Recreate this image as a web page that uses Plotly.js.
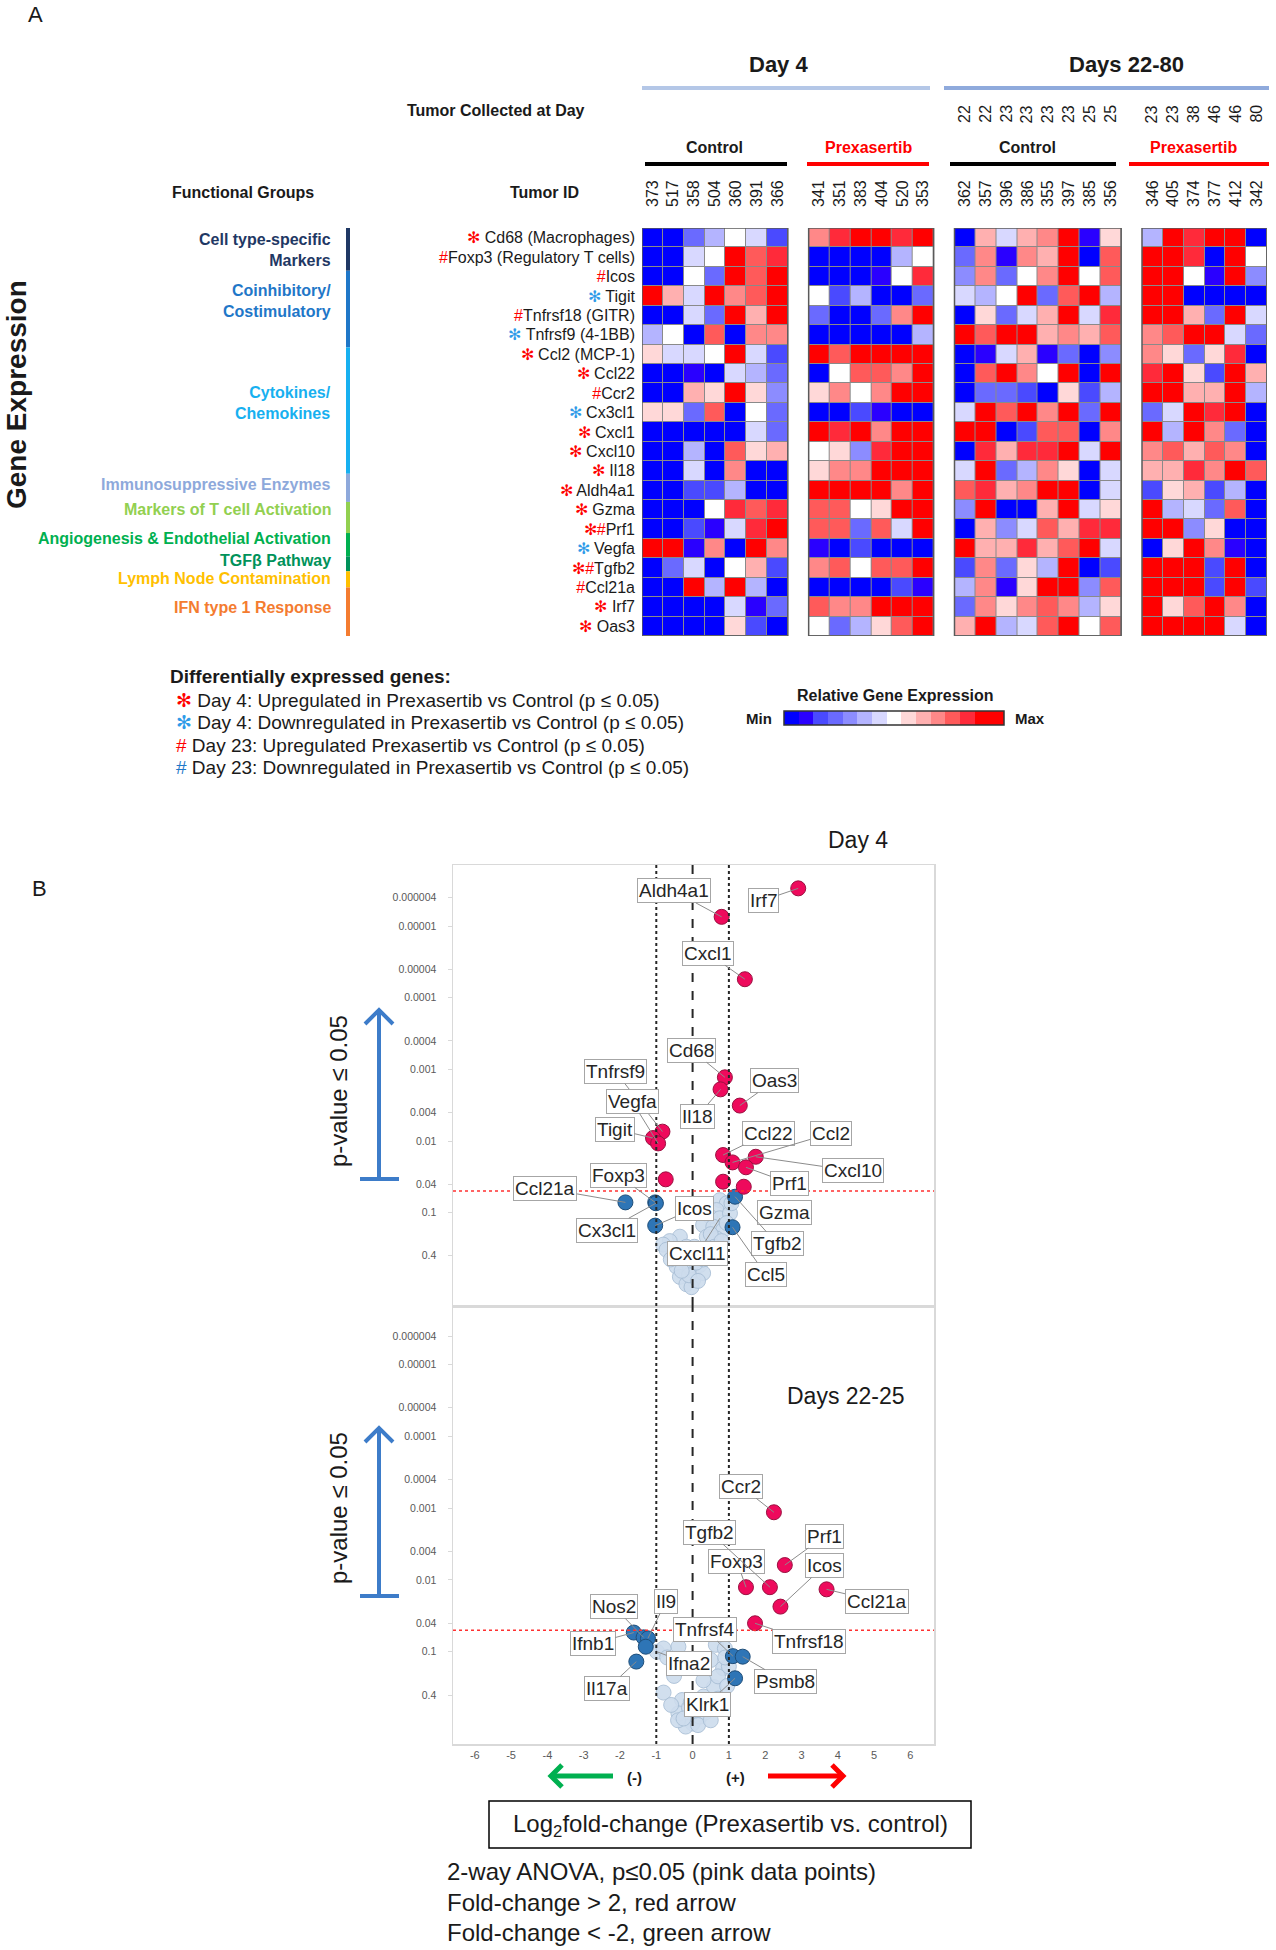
<!DOCTYPE html>
<html>
<head>
<meta charset="utf-8">
<script src="https://cdn.plot.ly/plotly-3.0.1.min.js"></script>
<style>body{margin:0;background:#fff}#chart{width:1276px;height:1950px}</style>
</head>
<body>
<div id="chart"></div>
<script>
var W = 1276, H = 1950;
var FONT = "Liberation Sans, Arial, sans-serif";
function px(v) { return v / W; }
function py(v) { return 1 - v / H; }

// ---------- A: heatmap ----------
var genes = ["Cd68 (Macrophages)", "Foxp3 (Regulatory T cells)", "Icos", "Tigit", "Tnfrsf18 (GITR)",
  "Tnfrsf9 (4-1BB)", "Ccl2 (MCP-1)", "Ccl22", "Ccr2", "Cx3cl1", "Cxcl1", "Cxcl10", "Il18", "Aldh4a1",
  "Gzma", "Prf1", "Vegfa", "Tgfb2", "Ccl21a", "Irf7", "Oas3"];
// u4/d4 = day 4 up/down, u23/d23 = day 23 up/down
var geneMarks = [["u4"], ["u23"], ["u23"], ["d4"], ["u23"], ["d4"], ["u4"], ["u4"], ["u23"], ["d4"],
  ["u4"], ["u4"], ["u4"], ["u4"], ["u4"], ["u4", "u23"], ["d4"], ["u4", "u23"], ["u23"], ["u4"], ["u4"]];

var idsDay4Control = ["373", "517", "358", "504", "360", "391", "366"];
var idsDay4Prex = ["341", "351", "383", "404", "520", "353"];
var idsLateControl = ["362", "357", "396", "386", "355", "397", "385", "356"];
var idsLatePrex = ["346", "405", "374", "377", "412", "342"];
var daysLateControl = ["22", "22", "23", "23", "23", "23", "25", "25"];
var daysLatePrex = ["23", "23", "38", "46", "46", "80"];

// relative expression level, -7 (min) .. 6 (max)
var zDay4Control = [
  [-7,-7,-4,-2,0,-1,-5], [-7,-7,-1,0,6,4,5], [-7,-7,0,-4,6,4,6], [6,2,-1,6,3,4,6],
  [-7,-7,-1,-4,6,2,6], [-2,0,-7,4,-7,3,3], [1,-1,-1,0,6,-1,-5], [-7,-7,-6,-7,-1,-2,-4],
  [-7,-7,2,1,6,1,-3], [1,1,-4,4,-7,0,-4], [-7,-7,-7,-7,-7,-1,-4], [-7,-7,-2,-7,4,1,2],
  [-7,-7,-1,-7,3,-7,-7], [-7,-7,-5,-5,-2,-7,-7], [-7,-7,-7,0,5,4,5], [-7,-7,-5,-6,-1,5,6],
  [6,6,-6,3,-7,6,3], [-7,-4,-1,-7,0,2,-5], [-7,-7,6,-2,6,-2,-7], [-7,-7,-7,-7,-1,-6,-4],
  [-7,-7,-7,-7,1,-5,-7]];
var zDay4Prex = [
  [3,5,6,6,5,6], [-7,-7,-7,-7,-2,0], [-7,-7,-7,-6,0,5], [0,-5,-2,-7,-7,-4],
  [-4,-7,-7,-4,3,6], [-7,-7,-7,-7,-7,-2], [6,4,6,6,6,6], [-7,0,4,4,3,6],
  [1,3,0,3,6,6], [-7,-7,-5,-6,-7,-7], [6,5,6,3,6,6], [0,1,-3,5,6,6],
  [1,3,3,6,6,6], [6,6,6,6,3,6], [4,4,0,1,6,6], [4,4,-4,4,-1,6],
  [-6,-7,-5,-7,-7,-7], [3,4,0,4,4,6], [-7,-7,-7,-7,-5,-6], [4,3,3,6,6,6],
  [0,-4,-2,1,4,6]];
var zLateControl = [
  [-7,2,-1,2,3,6,-6,1], [-4,3,-6,3,2,6,-7,4], [-3,3,-4,0,3,6,0,4], [-1,-2,0,6,-4,4,6,-2],
  [-7,1,-4,-1,2,6,-1,5], [6,4,6,6,2,3,2,4], [-7,-6,-1,2,-6,-4,-7,-3], [-7,4,6,3,0,6,-7,6],
  [-7,-4,-4,-5,-7,1,-5,-2], [-1,6,4,6,3,6,-4,6], [6,6,-7,-5,4,4,-7,3], [-7,5,2,5,5,6,-1,6],
  [-1,6,-4,-2,3,1,-7,-1], [4,5,2,3,6,6,-7,-1], [-3,6,-7,-7,2,6,-1,1], [-7,2,-3,-1,4,2,5,5],
  [6,2,2,5,2,4,6,-1], [-5,3,-4,1,-2,6,-7,-5], [-2,3,-6,1,6,6,-3,4], [-4,3,1,3,4,3,-2,1],
  [2,6,-2,-1,4,6,0,4]];
var zLatePrex = [
  [-2,6,5,6,6,-7], [6,6,5,-7,6,0], [6,6,0,-6,6,-3], [6,6,-7,-7,-7,-7],
  [6,6,2,-4,6,-1], [3,4,6,6,-1,-4], [3,1,-4,1,5,-7], [5,6,1,-5,6,2],
  [6,6,2,2,6,-2], [-4,-1,6,5,6,-7], [6,-2,6,3,-4,-7], [3,4,2,4,3,-7],
  [2,2,5,3,6,4], [-5,1,2,-5,-2,-7], [6,-2,-1,-4,4,-7], [6,6,-3,1,-7,-7],
  [-7,1,6,3,-6,-7], [6,6,6,-5,6,-7], [6,6,6,-5,6,-5], [6,1,4,6,3,-7],
  [6,6,6,6,-1,-7]];

var levelColors = ["#0000ff", "#2a00ff", "#4a4aff", "#6a6aff", "#8c8cff", "#b4b4ff", "#d8d8ff", "#ffffff",
  "#ffd8d8", "#ffb0b0", "#ff8888", "#ff5a5a", "#ff2a3a", "#ff0000"];
var legendLevels = [-7, -6, -5, -4, -3, -2, -1, 0, 1, 2, 3, 4, 5, 6, 6];

var groupNames = ["Cell type-specific<br>Markers", "Coinhibitory/<br>Costimulatory", "Cytokines/<br>Chemokines",
  "Immunosuppressive Enzymes", "Markers of T cell Activation", "Angiogenesis &amp; Endothelial Activation",
  "TGF\u03b2 Pathway", "Lymph Node Contamination", "IFN type 1 Response"];
var groupColors = ["#1f3864", "#1f77c8", "#17b0f0", "#8ea9db", "#92d050", "#00b050", "#00925a", "#ffc000", "#f47c30"];

// ---------- B: volcano plots ----------
var d4SigX = [2.91, 0.80, 1.44, 0.89, 0.77, 1.30, -0.83, -1.09, -0.95, 0.84, 1.10, 1.74, 1.47, -0.74, 0.84, 1.41];
var d4SigP = [2.96e-6, 7.4e-6, 5.5e-5, 1.29e-3, 1.9e-3, 3.2e-3, 7.4e-3, 9.1e-3, 1.08e-2, 0.0157, 0.0199, 0.0166, 0.0233, 0.0343, 0.037, 0.0435];
var d4SigGenes = ["Irf7", "Aldh4a1", "Cxcl1", "Cd68", "Il18", "Oas3", "Tnfrsf9", "Tigit", "Vegfa", "Ccl22", "Ccl2", "Cxcl10", "Prf1", "", "", "Gzma"];
var d4BlueX = [-1.85, -1.03, -1.01, -1.03, 1.17, 1.10];
var d4BlueP = [0.072, 0.072, 0.074, 0.152, 0.06, 0.16];
var d4BlueGenes = ["Ccl21a", "Foxp3", "Cx3cl1", "Icos", "Tgfb2", "Ccl5"];
var d4CloudX = [0.75, 0.94, 0.66, 0.48, 0.75, 1.03, 0.29, 0.57, 0.84, 0.39, 0.66, -0.35, -0.63, -0.81, -0.17, -0.53, -0.26, 0.11, 0.39, -0.44,
  -0.07, 0.20, -0.35, 0.02, -0.17, -0.03, 0.29, 0.94, 1.07, -0.72, 0.50, 0.10, -0.10, 0.15, 0.60, -0.60, 0.80, 0.30, -0.30, 0.05];
var d4CloudP = [0.067, 0.074, 0.092, 0.114, 0.12, 0.102, 0.149, 0.157, 0.175, 0.217, 0.23, 0.217, 0.25, 0.28, 0.30, 0.37, 0.46, 0.41, 0.37, 0.57,
  0.60, 0.54, 0.79, 0.87, 1.0, 1.1, 0.70, 0.14, 0.074, 0.33, 0.20, 0.50, 0.75, 0.90, 0.30, 0.45, 0.25, 0.45, 0.65, 0.30];
var d4CloudGenes = ["", "", "", "", "Cxcl11"];

var lateSigX = [2.24, 2.54, 1.47, 2.13, 2.42, 3.69, 1.72];
var lateSigP = [1.14e-3, 6.2e-3, 0.0126, 0.0126, 0.0235, 0.0135, 0.0401];
var lateSigGenes = ["Ccr2", "Prf1", "Foxp3", "Tgfb2", "Icos", "Ccl21a", "Tnfrsf18"];
var lateBlueX = [-1.62, -1.35, -1.23, -1.29, -1.55, 1.11, 1.38, 1.17];
var lateBlueP = [0.054, 0.063, 0.065, 0.085, 0.137, 0.115, 0.117, 0.234];
var lateBlueGenes = ["Ifnb1", "Nos2", "Il9", "", "Il17a", "Tnfrsf4", "Psmb8", "Klrk1"];
var lateCloudX = [-0.98, -0.39, -0.51, -0.80, 0.64, 0.89, 0.50, 0.84, 0.59, 0.30, -0.29, -0.39, 0.00, 0.20, -0.19, -0.59, -0.80, -0.70, 0.30, 0.70,
  1.00, 0.95, 0.45, -0.10, 0.10, -0.40, 0.35, 0.15, -0.25, 0.70, -0.45, 0.90, 0.50, -0.05];
var lateCloudP = [0.10, 0.085, 0.217, 0.37, 0.08, 0.09, 0.13, 0.17, 0.31, 0.42, 0.47, 0.72, 1.0, 0.80, 1.1, 0.55, 0.09, 0.12, 0.25, 0.22,
  0.16, 0.30, 0.55, 0.60, 0.65, 0.90, 0.70, 1.05, 0.85, 0.45, 0.15, 0.12, 0.90, 0.50];
var lateCloudGenes = ["Ifna2"];

var pTicks = [4e-6, 1e-5, 4e-5, 1e-4, 4e-4, 1e-3, 4e-3, 0.01, 0.04, 0.1, 0.4];
var pTickText = ["0.000004", "0.00001", "0.00004", "0.0001", "0.0004", "0.001", "0.004", "0.01", "0.04", "0.1", "0.4"];
var fcTicks = [-6, -5, -4, -3, -2, -1, 0, 1, 2, 3, 4, 5, 6];

// ---------- layout helpers ----------
var blocks = [
  {ids: idsDay4Control, z: zDay4Control, start: 0},
  {ids: idsDay4Prex, z: zDay4Prex, start: 8},
  {ids: idsLateControl, z: zLateControl, start: 15},
  {ids: idsLatePrex, z: zLatePrex, start: 24}
];

var scale = [];
levelColors.forEach(function (c, i) {
  scale.push([i / levelColors.length, c]);
  scale.push([(i + 1) / levelColors.length, c]);
});

var rowIdx = genes.map(function (g, i) { return i; });
var data = [];
var colVals = [], colText = [];
var shapes = [], annotations = [];

blocks.forEach(function (b) {
  var xs = b.ids.map(function (id, i) { return b.start + i; });
  colVals = colVals.concat(xs);
  colText = colText.concat(b.ids);
  data.push({
    type: "heatmap", x: xs, y: rowIdx, z: b.z, xaxis: "x", yaxis: "y",
    colorscale: scale, zmin: -7.5, zmax: 6.5, xgap: 1, ygap: 1, showscale: false, hoverinfo: "skip"
  });
  var x0 = b.start - 0.5, x1 = b.start + b.ids.length - 0.5;
  shapes.push({type: "rect", xref: "x", yref: "y", x0: x0, x1: x1, y0: -0.5, y1: 20.5,
    fillcolor: "#8a8a8a", line: {width: 0}, layer: "below"});
  shapes.push({type: "rect", xref: "x", yref: "y", x0: x0, x1: x1, y0: -0.5, y1: 20.5,
    fillcolor: "rgba(0,0,0,0)", line: {width: 1.5, color: "#5a5a5a"}});
});

// gene labels with significance marks
var markSym = {u4: ["\u273b", "#ff0000"], d4: ["\u273b", "#2f9be8"], u23: ["#", "#ff0000"], d23: ["#", "#1f78c8"]};
var geneTicks = genes.map(function (g, i) {
  var s = "";
  geneMarks[i].forEach(function (m) {
    s += '<span style="color:' + markSym[m][1] + '">' + markSym[m][0] + "</span>";
  });
  var last = geneMarks[i][geneMarks[i].length - 1];
  return s + (markSym[last][0] === "#" ? "" : " ") + g;
});

// day collected (late blocks only)
daysLateControl.forEach(function (d, i) {
  annotations.push({xref: "x", yref: "paper", x: 15 + i, y: py(103), text: d, textangle: -90,
    showarrow: false, font: {size: 16, color: "#1a1a1a"}});
});
daysLatePrex.forEach(function (d, i) {
  annotations.push({xref: "x", yref: "paper", x: 24 + i, y: py(103), text: d, textangle: -90,
    showarrow: false, font: {size: 16, color: "#1a1a1a"}});
});

// functional group bar
var groupBounds = [0, 2.2, 6.15, 12.65, 14.1, 15.7, 16.9, 17.67, 18.5, 21];
var groupLabelRows = [0.65, 3.26, 8.5, 12.72, 14.0, 15.46, 16.63, 17.55, 19.05];
groupNames.forEach(function (name, i) {
  shapes.push({type: "line", xref: "paper", yref: "y", x0: px(348), x1: px(348),
    y0: groupBounds[i] - 0.5, y1: groupBounds[i + 1] - 0.5, line: {color: groupColors[i], width: 4}});
  annotations.push({xref: "paper", yref: "y", x: px(333), y: groupLabelRows[i], text: name,
    xanchor: "right", yanchor: "middle", align: "right", showarrow: false,
    font: {size: 16, color: groupColors[i], weight: "bold"}});
});

function txt(x, y, text, size, opts) {
  var a = {xref: "paper", yref: "paper", x: px(x), y: py(y), text: text, showarrow: false,
    xanchor: "center", yanchor: "middle", font: {size: size, color: "#1a1a1a"}};
  for (var k in (opts || {})) a[k] = opts[k];
  if (opts && opts.bold) a.font.weight = "bold";
  if (opts && opts.color) a.font.color = opts.color;
  delete a.bold; delete a.color;
  return a;
}

// arrow drawn as a line plus an open chevron head (pixel coords)
function arrow(x0, y0, x1, y1, color, width, head) {
  var len = Math.sqrt((x1 - x0) * (x1 - x0) + (y1 - y0) * (y1 - y0));
  var ux = (x1 - x0) / len, uy = (y1 - y0) / len;
  var bx = x1 - ux * head, by = y1 - uy * head;
  var lx = bx - uy * head, ly = by + ux * head;
  var rx = bx + uy * head, ry = by - ux * head;
  shapes.push({type: "line", xref: "paper", yref: "paper", x0: px(x0), y0: py(y0), x1: px(x1 - ux * 2), y1: py(y1 - uy * 2),
    line: {color: color, width: width}});
  shapes.push({type: "path", xref: "paper", yref: "paper",
    path: "M" + px(lx) + "," + py(ly) + " L" + px(x1) + "," + py(y1) + " L" + px(rx) + "," + py(ry),
    line: {color: color, width: width}});
}

annotations.push(txt(35, 15, "A", 22));
annotations.push(txt(778, 65, "Day 4", 22, {bold: true}));
annotations.push(txt(1126, 65, "Days 22-80", 22, {bold: true}));
annotations.push(txt(496, 110, "Tumor Collected at Day", 16, {bold: true}));
annotations.push(txt(714, 147, "Control", 16, {bold: true}));
annotations.push(txt(868, 147, "Prexasertib", 16, {bold: true, color: "#ff0000"}));
annotations.push(txt(1027, 147, "Control", 16, {bold: true}));
annotations.push(txt(1193, 147, "Prexasertib", 16, {bold: true, color: "#ff0000"}));
annotations.push(txt(243, 192, "Functional Groups", 16, {bold: true}));
annotations.push(txt(544, 192, "Tumor ID", 16, {bold: true}));
annotations.push(txt(17, 395, "Gene Expression", 28, {bold: true, textangle: -90}));

// header lines
shapes.push({type: "line", xref: "paper", yref: "paper", x0: px(642), x1: px(930), y0: py(88), y1: py(88), line: {color: "#b4c7e7", width: 4}});
shapes.push({type: "line", xref: "paper", yref: "paper", x0: px(944), x1: px(1269), y0: py(88), y1: py(88), line: {color: "#8faadc", width: 4}});
[[645, 787, "#000000"], [807, 929, "#ff0000"], [950, 1116, "#000000"], [1129, 1269, "#ff0000"]].forEach(function (s) {
  shapes.push({type: "line", xref: "paper", yref: "paper", x0: px(s[0]), x1: px(s[1]), y0: py(164), y1: py(164), line: {color: s[2], width: 4}});
});

// legend of marks
annotations.push(txt(168, 677, "Differentially expressed genes:", 19, {bold: true, xanchor: "left"}));
var legendKeys = ["u4", "d4", "u23", "d23"];
var legendTexts = ["Day 4: Upregulated in Prexasertib vs Control (p \u2264 0.05)",
  "Day 4: Downregulated in Prexasertib vs Control (p \u2264 0.05)",
  "Day 23: Upregulated Prexasertib vs Control (p \u2264 0.05)",
  "Day 23: Downregulated in Prexasertib vs Control (p \u2264 0.05)"];
var legendY = [700, 723, 745, 767];
legendKeys.forEach(function (k, i) {
  annotations.push(txt(174, legendY[i], '<span style="color:' + markSym[k][1] + '">' + markSym[k][0] + "</span> " + legendTexts[i], 19, {xanchor: "left"}));
});

// expression colour key
data.push({type: "heatmap", x: legendLevels.map(function (v, i) { return i; }), y: [0], z: [legendLevels],
  xaxis: "x4", yaxis: "y4", colorscale: scale, zmin: -7.5, zmax: 6.5, showscale: false, hoverinfo: "skip"});
shapes.push({type: "rect", xref: "x4 domain", yref: "y4 domain", x0: 0, x1: 1, y0: 0, y1: 1, line: {color: "#333", width: 1.5}});
annotations.push(txt(895, 695, "Relative Gene Expression", 16, {bold: true}));
annotations.push(txt(759, 718, "Min", 15, {bold: true}));
annotations.push(txt(1030, 718, "Max", 15, {bold: true}));

// ---------- volcano traces ----------
function pts(xs, ps, ax, ay, fill, edge, op) {
  return {type: "scatter", mode: "markers", x: xs, y: ps, xaxis: ax, yaxis: ay, hoverinfo: "skip",
    marker: {size: 15, color: fill, opacity: op || 1, line: {color: edge, width: 1}}};
}
data.push(pts(d4CloudX, d4CloudP, "x2", "y2", "#cddced", "#a9bfd6", 0.9));
data.push(pts(d4BlueX, d4BlueP, "x2", "y2", "#2e75b6", "#1f4e79"));
data.push(pts(d4SigX, d4SigP, "x2", "y2", "#ee0a5c", "#9a1040"));
data.push(pts(lateCloudX, lateCloudP, "x3", "y3", "#cddced", "#a9bfd6", 0.9));
data.push(pts(lateBlueX, lateBlueP, "x3", "y3", "#2e75b6", "#1f4e79"));
data.push(pts(lateSigX, lateSigP, "x3", "y3", "#ee0a5c", "#9a1040"));

// label box offsets (pixels from point to box centre)
var d4Offsets = {Irf7: [-35, 12], Aldh4a1: [-48, -26], Cxcl1: [-37, -26], Cd68: [-33, -27], Il18: [-23, 27],
  Oas3: [35, -25], Tnfrsf9: [-47, -60], Tigit: [-38, -9], Vegfa: [-26, -42], Ccl22: [45, -22], Ccl2: [98, -29],
  Cxcl10: [97, 14], Prf1: [44, 16], Gzma: [41, 26], Ccl21a: [-80, -14], Foxp3: [-37, -27], Cx3cl1: [-49, 27],
  Icos: [39, -17], Tgfb2: [42, 47], Ccl5: [33, 47], Cxcl11: [-22, 35]};
var lateOffsets = {Ccr2: [-33, -26], Tgfb2: [-60, -55], Foxp3: [-9, -26], Prf1: [40, -29], Icos: [44, -41],
  Ccl21a: [50, 12], Tnfrsf18: [54, 18], Tnfrsf4: [-28, -27], Psmb8: [43, 25], Klrk1: [-28, 26], Ifna2: [32, 12],
  Nos2: [-30, -31], Il9: [18, -37], Ifnb1: [-41, 11], Il17a: [-29, 27]};

function labels(xs, ps, names, offs, xr, yr) {
  names.forEach(function (n, i) {
    if (!n) return;
    annotations.push({xref: xr, yref: yr, x: xs[i], y: Math.log10(ps[i]), text: n, showarrow: true,
      arrowhead: 0, arrowwidth: 1, arrowcolor: "#8c8c8c", ax: offs[n][0], ay: offs[n][1], standoff: 0,
      bgcolor: "#ffffff", bordercolor: "#a6a6a6", borderwidth: 1, borderpad: 1,
      font: {size: 19, color: "#262626"}});
  });
}
labels(d4SigX, d4SigP, d4SigGenes, d4Offsets, "x2", "y2");
labels(d4BlueX, d4BlueP, d4BlueGenes, d4Offsets, "x2", "y2");
labels(d4CloudX, d4CloudP, d4CloudGenes, d4Offsets, "x2", "y2");
labels(lateSigX, lateSigP, lateSigGenes, lateOffsets, "x3", "y3");
labels(lateBlueX, lateBlueP, lateBlueGenes, lateOffsets, "x3", "y3");
labels(lateCloudX, lateCloudP, lateCloudGenes, lateOffsets, "x3", "y3");

// threshold lines
[["x2", "y2"], ["x3", "y3"]].forEach(function (a) {
  [-1, 1].forEach(function (v) {
    shapes.push({type: "line", xref: a[0], yref: a[1] + " domain", x0: v, x1: v, y0: 0, y1: 1, line: {color: "#262626", width: 2, dash: "dot"}});
  });
  shapes.push({type: "line", xref: a[0], yref: a[1] + " domain", x0: 0, x1: 0, y0: 0, y1: 1, line: {color: "#262626", width: 2, dash: "dash"}});
  shapes.push({type: "line", xref: a[0] + " domain", yref: a[1], x0: 0, x1: 1, y0: 0.05, y1: 0.05, line: {color: "#ff3030", width: 1.5, dash: "dot"}});
});

// p-value arrows
[[1010, 1179], [1428, 1596]].forEach(function (a) {
  arrow(379, a[1], 379, a[0], "#3d7cc9", 4, 14);
  shapes.push({type: "line", xref: "paper", yref: "paper", x0: px(360), x1: px(399), y0: py(a[1]), y1: py(a[1]), line: {color: "#3d7cc9", width: 4}});
});
annotations.push(txt(338, 1091, "p-value \u2264 0.05", 24, {textangle: -90}));
annotations.push(txt(338, 1508, "p-value \u2264 0.05", 24, {textangle: -90}));
annotations.push(txt(40, 888, "B", 22));
annotations.push(txt(858, 840, "Day 4", 23));
annotations.push(txt(846, 1396, "Days 22-25", 23));

// fold-change arrows and notes
arrow(613, 1776, 551, 1776, "#00b050", 5, 11);
arrow(768, 1776, 843, 1776, "#ff0000", 5, 11);
annotations.push(txt(634, 1777, "(-)", 15, {bold: true}));
annotations.push(txt(735, 1777, "(+)", 15, {bold: true}));
shapes.push({type: "rect", xref: "paper", yref: "paper", x0: px(489), x1: px(971), y0: py(1848), y1: py(1801), line: {color: "#000", width: 1.5}});
annotations.push(txt(730, 1825, "Log<sub>2</sub>fold-change (Prexasertib vs. control)", 24));
annotations.push(txt(445, 1871, "2-way ANOVA, p\u22640.05 (pink data points)", 24, {xanchor: "left"}));
annotations.push(txt(445, 1902, "Fold-change &gt; 2, red arrow", 24, {xanchor: "left"}));
annotations.push(txt(445, 1932, "Fold-change &lt; -2, green arrow", 24, {xanchor: "left"}));

var frame = {showgrid: false, zeroline: false, showline: true, mirror: true, linecolor: "#d9d9d9", linewidth: 1.5, fixedrange: true};
function merge(a, b) { var o = {}; for (var k in a) o[k] = a[k]; for (var k2 in b) o[k2] = b[k2]; return o; }
var pAxis = merge(frame, {type: "log", tickvals: pTicks, ticktext: pTickText, ticks: "outside", ticklen: 4,
  tickcolor: "#d9d9d9", tickfont: {size: 10.5, color: "#595959"}, ticklabelstandoff: 9});

var layout = {
  width: W, height: H, margin: {l: 0, r: 0, t: 0, b: 0},
  paper_bgcolor: "#ffffff", plot_bgcolor: "rgba(0,0,0,0)", showlegend: false,
  font: {family: FONT, color: "#1a1a1a"},
  xaxis: {domain: [px(642), px(1267)], range: [-0.5, 29.5], side: "top", tickvals: colVals, ticktext: colText,
    tickangle: -90, ticks: "", ticklabelstandoff: 20, tickfont: {size: 16, color: "#1a1a1a"},
    showgrid: false, zeroline: false, showline: false, anchor: "y", fixedrange: true},
  yaxis: {domain: [py(636), py(228)], range: [20.5, -0.5], tickvals: rowIdx, ticktext: geneTicks, ticks: "",
    ticklabelstandoff: 6, tickfont: {size: 16, color: "#1a1a1a"}, showgrid: false, zeroline: false, anchor: "x", fixedrange: true},
  xaxis2: merge(frame, {domain: [px(453), px(934)], range: [-6.6, 6.65], anchor: "y2", showticklabels: false, ticks: ""}),
  yaxis2: merge(pAxis, {domain: [py(1306), py(865)], range: [0.3045, -5.855], anchor: "x2"}),
  xaxis3: merge(frame, {domain: [px(453), px(934)], range: [-6.6, 6.65], anchor: "y3", ticks: "",
    tickvals: fcTicks, ticktext: fcTicks.map(String), tickfont: {size: 11, color: "#595959"}}),
  yaxis3: merge(pAxis, {domain: [py(1744), py(1306)], range: [0.2845, -5.816], anchor: "x3"}),
  xaxis4: {domain: [px(784), px(1004)], range: [-0.5, legendLevels.length - 0.5], visible: false, anchor: "y4", fixedrange: true},
  yaxis4: {domain: [py(725), py(711)], range: [-0.5, 0.5], visible: false, anchor: "x4", fixedrange: true},
  shapes: shapes,
  annotations: annotations
};

Plotly.newPlot("chart", data, layout, {displayModeBar: false, staticPlot: true});
</script>
</body>
</html>
